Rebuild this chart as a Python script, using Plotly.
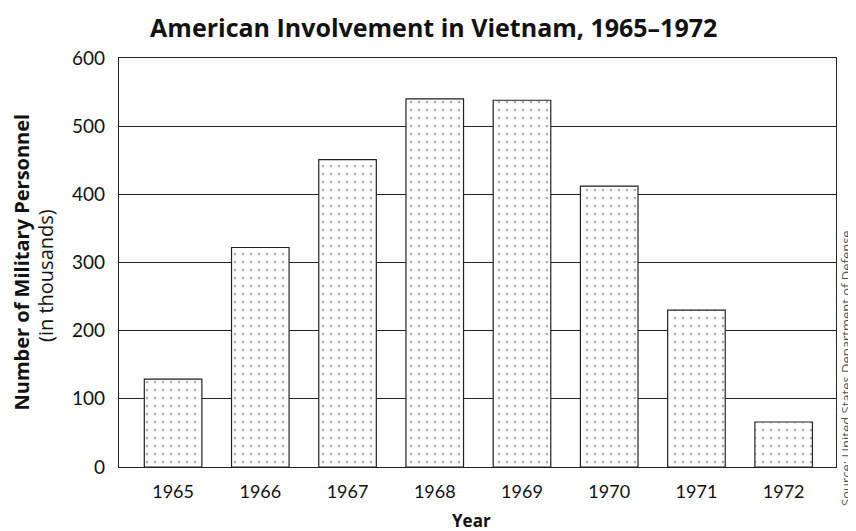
import plotly.graph_objects as go

years = ["1965", "1966", "1967", "1968", "1969", "1970", "1971", "1972"]
personnel = [129, 322, 451, 540, 538, 412, 230, 66]
y_ticks = [0, 100, 200, 300, 400, 500, 600]

x_pos = list(range(len(years)))

# The page body has an 8px margin, so the figure is drawn 8px smaller
fig = go.Figure()
fig.add_trace(go.Bar(
    x=x_pos, y=personnel, width=0.66,
    marker=dict(
        color="white",
        line=dict(color="#222", width=1.2),
        pattern=dict(shape=".", fgcolor="#555", bgcolor="white", size=8, solidity=0.08),
    ),
    showlegend=False,
))

fig.update_layout(
    width=848, height=523,
    margin=dict(l=111, r=20, t=50, b=64),
    paper_bgcolor="white", plot_bgcolor="white",
    font=dict(family="Lato, Open Sans, sans-serif", color="#111"),
    title=dict(text="<b>American Involvement in Vietnam, 1965–1972</b>",
               x=0.502, xanchor="center", y=0.962, yanchor="middle",
               font=dict(size=25, family="Open Sans", color="#111")),
)
fig.update_xaxes(
    range=[-0.62, 7.6], tickvals=x_pos, ticktext=years,
    showgrid=False, showline=True, linecolor="#222", linewidth=1.2, mirror=True,
    ticks="", tickfont=dict(size=18, family="Lato", color="#111"), ticklabelstandoff=8,
)
fig.update_yaxes(
    range=[0, 600], tickvals=y_ticks,
    showgrid=True, gridcolor="#222", gridwidth=1.2,
    showline=True, linecolor="#222", linewidth=1.2, mirror=True,
    ticks="", tickfont=dict(size=19, family="Lato", color="#111"), ticklabelstandoff=9,
    zeroline=False,
)

fig.add_annotation(
    text="<b>Year</b>",
    xref="paper", yref="paper", x=0.492, y=-0.13, xanchor="center", yanchor="middle",
    showarrow=False, font=dict(size=17, family="Open Sans", color="#111"),
)
fig.add_annotation(
    text="<b>Number of Military Personnel</b>",
    xref="paper", yref="paper", x=(21 - 119) / 717, y=0.5, xanchor="center", yanchor="middle",
    textangle=-90, showarrow=False, font=dict(size=20, family="Open Sans", color="#111"),
)
fig.add_annotation(
    text="(in thousands)",
    xref="paper", yref="paper", x=(45 - 119) / 717, y=(467 - 276) / 409, xanchor="center", yanchor="middle",
    textangle=-90, showarrow=False, font=dict(size=20, family="Open Sans", color="#111"),
)
fig.add_annotation(
    text="Source: United States Department of Defense",
    xref="paper", yref="paper", x=(846 - 119) / 717, y=(467 - 368) / 409, xanchor="center", yanchor="middle",
    textangle=-90, showarrow=False,
    font=dict(size=13, family="Liberation Sans Narrow, Open Sans", color="#555"),
)

fig.write_html("out.html")
